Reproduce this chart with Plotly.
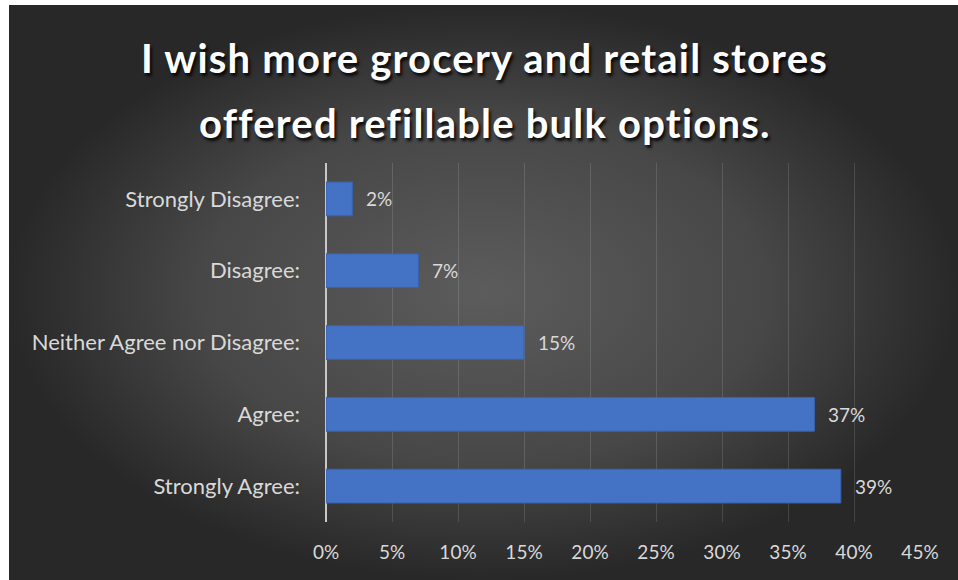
import plotly.graph_objects as go

# ---- data ----
categories = ["Strongly Disagree:", "Disagree:", "Neither Agree nor Disagree:", "Agree:", "Strongly Agree:"]
values = [2, 7, 15, 37, 39]
x_ticks = [0, 5, 10, 15, 20, 25, 30, 35, 40, 45]
x_tick_labels = [f"{t}%" for t in x_ticks]
title_lines = ["I wish more grocery and retail stores", "offered refillable bulk options."]

W, H = 958, 580
FONT = "Lato, 'Open Sans', sans-serif"
LABEL_COLOR = "#d9d9d9"

fig = go.Figure()

# background panel with radial gradient (in a hidden full-page subplot)
bx0, bx1 = 9 / W, 1.0
by0, by1 = 0.0, 1 - 5 / H
fig.add_trace(go.Scatter(
    x=[bx0, bx1, bx1, bx0, bx0], y=[by0, by0, by1, by1, by0],
    mode="lines", line=dict(width=0), fill="toself",
    fillgradient=dict(type="radial", colorscale=[[0, "#5c5c5c"], [0.6, "#474747"], [1, "#282828"]]),
    hoverinfo="skip", showlegend=False, xaxis="x", yaxis="y",
))

fig.add_trace(go.Bar(
    x=values, y=categories, orientation="h", width=0.47,
    marker=dict(color="#4472c4", line=dict(color="#3a62ae", width=1)),
    hoverinfo="x+y", showlegend=False, xaxis="x2", yaxis="y2",
))

for c, v in zip(categories, values):
    fig.add_annotation(x=v, y=c, xref="x2", yref="y2", text=f"{v}%", showarrow=False,
                       xanchor="left", xshift=12,
                       font=dict(family=FONT, size=19, color=LABEL_COLOR))

# title, two lines
title_font = dict(family=FONT, size=40, color="white", weight="bold",
                  shadow="2px 3px 3px rgba(0,0,0,0.85)")
for line, ypix in zip(title_lines, [58, 123]):
    fig.add_annotation(x=0.5 + 6 / W, y=1 - ypix / H, xref="paper", yref="paper",
                       text=f"<span style='letter-spacing:1.2px'>{line}</span>",
                       showarrow=False, xanchor="center", yanchor="middle", font=title_font)

fig.update_layout(
    width=W, height=H,
    margin=dict(l=0, r=0, t=0, b=0, pad=0, autoexpand=False),
    paper_bgcolor="white", plot_bgcolor="rgba(0,0,0,0)",
    xaxis=dict(domain=[0, 1], range=[0, 1], visible=False, fixedrange=True, automargin=False),
    yaxis=dict(domain=[0, 1], range=[0, 1], visible=False, fixedrange=True, automargin=False),
    xaxis2=dict(domain=[326 / W, 920 / W], anchor="y2", range=[0, 45], automargin=False,
                tickvals=x_ticks, ticktext=x_tick_labels,
                showgrid=True, gridcolor="rgba(255,255,255,0.13)", gridwidth=1,
                zeroline=True, zerolinecolor="#c8c8c8", zerolinewidth=2,
                showline=False, ticks="", ticklabelstandoff=17,
                tickfont=dict(family=FONT, size=19, color=LABEL_COLOR)),
    yaxis2=dict(domain=[(H - 522) / H, (H - 163) / H], anchor="x2", automargin=False,
                categoryorder="array", categoryarray=categories, autorange="reversed",
                showgrid=False, zeroline=False, showline=False, ticks="",
                ticklabelstandoff=25,
                tickfont=dict(family=FONT, size=22, color=LABEL_COLOR)),
)

fig.write_html("out.html")
